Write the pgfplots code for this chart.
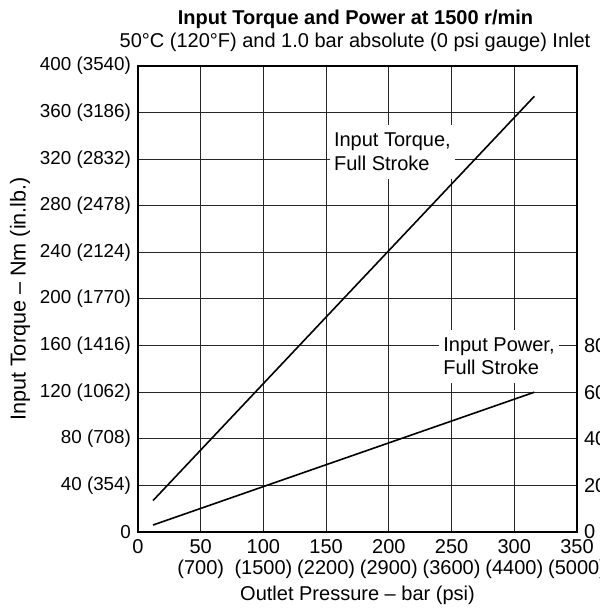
\documentclass[border=0pt]{standalone}
\usepackage{fontspec}
\setmainfont{Liberation Sans}
\usepackage{pgfplots}
\pgfplotsset{compat=1.18}
\begin{document}
\fontsize{10}{11}\selectfont
\begin{tikzpicture}
\begin{scope}
\clip (-69pt,-38pt) rectangle (230.5pt,266pt);
\begin{axis}[
  at={(0,0)}, anchor=south west,
  scale only axis, width=219.5pt, height=233pt,
  xmin=0, xmax=350, ymin=0, ymax=400,
  xtick={0,50,100,150,200,250,300,350},
  ytick={0,40,80,120,160,200,240,280,320,360,400},
  xticklabels={0,50\\(700),100\\(1500),150\\(2200),200\\(2900),250\\(3600),300\\(4400),350\\(5000)},
  yticklabels={0,40 (354),80 (708),120 (1062),160 (1416),200 (1770),240 (2124),280 (2478),320 (2832),360 (3186),400 (3540)},
  xticklabel style={align=center, font=\fontsize{10}{10.5}\selectfont},
  yticklabel style={font=\fontsize{9.4}{11}\selectfont},
  grid=major, major grid style={black!85, line width=0.5pt},
  axis line style={black, line width=0.6pt},
  major tick length=0pt,
  xlabel={Outlet Pressure – bar (psi)},
  xlabel style={at={(axis description cs:0.5,0)}, anchor=base, yshift=-34pt},
  ylabel={Input Torque – Nm (in.lb.)},
  ylabel style={at={(axis description cs:-0.2688,0.5)}, anchor=center, font=\fontsize{10.8}{12}\selectfont},
]
\node[fill=white, inner xsep=2pt, inner ysep=4pt, align=left, anchor=west, font=\fontsize{10}{12}\selectfont] at (axis cs:152.8,326) {Input Torque,\\Full Stroke};
\node[fill=white, inner xsep=2pt, inner ysep=4pt, align=left, anchor=west, font=\fontsize{10}{11.5}\selectfont] at (axis cs:240,151) {Input Power,\\Full Stroke};
\addplot[black, line width=0.8pt] coordinates {(12,27) (316,374)};
\end{axis}
\begin{axis}[
  at={(0,0)}, anchor=south west,
  scale only axis, width=219.5pt, height=233pt,
  xmin=0, xmax=350, ymin=0, ymax=200,
  axis y line*=right, hide x axis,
  y axis line style={black, line width=0.6pt},
  ytick={0,20,40,60,80},
  yticklabels={0,20,40,60,80},
  major tick length=0pt,
]
\addplot[black, line width=0.8pt] coordinates {(12,3) (316,60)};
\end{axis}
\node[anchor=base, font=\bfseries] at (108.75pt,253.5pt) {Input Torque and Power at 1500 r/min};
\node[anchor=base] at (108.5pt,242pt) {50°C (120°F) and 1.0 bar absolute (0 psi gauge) Inlet};
\end{scope}
\pgfresetboundingbox
\useasboundingbox (-69pt,-38pt) rectangle (230.5pt,266pt);
\end{tikzpicture}
\end{document}
